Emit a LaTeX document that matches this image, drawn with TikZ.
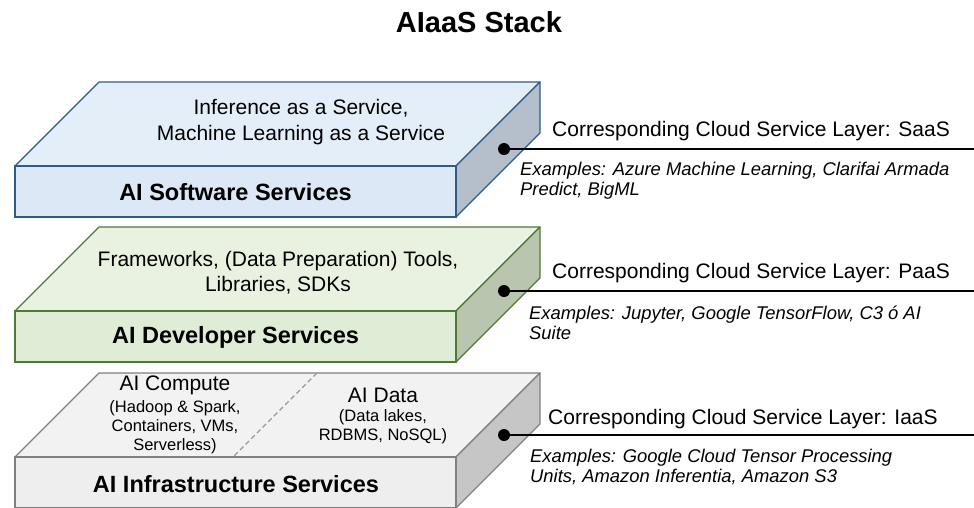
\documentclass[tikz,border=0pt]{standalone}
\usepackage{fontspec}
\setmainfont{Liberation Sans}
\definecolor{bTop}{HTML}{E4EEF9}
\definecolor{bFront}{HTML}{DCE8F5}
\definecolor{bSide}{HTML}{B4BFCB}
\definecolor{bLine}{HTML}{2E5B88}
\definecolor{gTop}{HTML}{E9F2E1}
\definecolor{gFront}{HTML}{E0EDD6}
\definecolor{gSide}{HTML}{B9C5AE}
\definecolor{gLine}{HTML}{4F7A34}
\definecolor{iTop}{HTML}{F2F2F2}
\definecolor{iFront}{HTML}{EEEEEE}
\definecolor{iSide}{HTML}{C6C6C6}
\definecolor{iLine}{HTML}{808080}
\newcommand\layerbox[5]{%
  % #1 front top y, #2 top fill, #3 front fill, #4 side fill, #5 stroke
  \draw[line width=1.2pt,draw=#5,fill=#2,line join=round] (15,#1) -- (99,#1-84) -- (540,#1-84) -- (456,#1) -- cycle;
  \draw[line width=1.2pt,draw=#5,fill=#4,line join=round] (456,#1) -- (540,#1-84) -- (540,#1-33) -- (456,#1+51) -- cycle;
  \draw[line width=1.2pt,draw=#5,fill=#3] (15,#1) rectangle (456,#1+51);
}
\begin{document}
\begin{tikzpicture}[x=1pt,y=-1pt,
  frontlbl/.style={font=\fontsize{23.5}{27}\selectfont\bfseries,anchor=center},
  toplbl/.style={font=\fontsize{21}{25.5}\selectfont,align=center,anchor=center},
  smalllbl/.style={font=\fontsize{16.5}{18.8}\selectfont,align=center,anchor=center},
  layerlbl/.style={font=\fontsize{21}{25}\selectfont,anchor=west,inner sep=0pt},
  exlbl/.style={font=\fontsize{18.4}{19.8}\selectfont\itshape,align=left,anchor=north west,inner sep=0pt},
  dotline/.style={line width=1.5pt,black},
  dotmark/.style={circle,fill=black,inner sep=0pt,minimum size=12pt}]
\useasboundingbox (0,0) rectangle (974,507);

\node[font=\fontsize{29}{33}\selectfont\bfseries] (title) at (479,22) {AIaaS Stack};

% Software layer
\layerbox{166}{bTop}{bFront}{bSide}{bLine}
\node[toplbl] (swtop) at (301,122) {Inference as a Service,\\Machine Learning as a Service};
\node[frontlbl] (swfront) at (235.5,192) {AI Software Services};

% Developer layer
\layerbox{311}{gTop}{gFront}{gSide}{gLine}
\node[toplbl] (devtop) at (278,272.5) {Frameworks, (Data Preparation) Tools,\\Libraries, SDKs};
\node[frontlbl] (devfront) at (235.5,337) {AI Developer Services};

% Infrastructure layer
\layerbox{457}{iTop}{iFront}{iSide}{iLine}
\draw[draw=iLine!80,dash pattern=on 5pt off 3pt,line width=1.1pt] (317,373) -- (233,457);
\node[font=\fontsize{21}{25}\selectfont] (comp) at (175,385) {AI Compute};
\node[smalllbl] (compsub) at (175,427) {(Hadoop \& Spark,\\Containers, VMs,\\Serverless)};
\node[font=\fontsize{21}{25}\selectfont] (data) at (383,395) {AI Data};
\node[smalllbl] (datasub) at (383,427) {(Data lakes,\\RDBMS, NoSQL)};
\node[frontlbl] (infront) at (236,484) {AI Infrastructure Services};

% Connectors
\node[dotmark] (d1) at (504,149) {};
\coordinate (e1) at (974,149);
\draw[dotline] (d1.center) -- (e1);
\node[dotmark] (d2) at (504,291) {};
\coordinate (e2) at (974,291);
\draw[dotline] (d2.center) -- (e2);
\node[dotmark] (d3) at (504,435) {};
\coordinate (e3) at (974,435);
\draw[dotline] (d3.center) -- (e3);

% Side labels
\node[layerlbl] (saas) at (552,131) {Corresponding Cloud Service Layer: SaaS};
\node[exlbl] (saasex) at (520,162) {Examples: Azure Machine Learning, Clarifai Armada\\Predict, BigML};
\node[layerlbl] (paas) at (552,273) {Corresponding Cloud Service Layer: PaaS};
\node[exlbl] (paasex) at (529,306) {Examples: Jupyter, Google TensorFlow, C3 ó AI\\Suite};
\node[layerlbl] (iaas) at (548,419) {Corresponding Cloud Service Layer: IaaS};
\node[exlbl] (iaasex) at (530,449) {Examples: Google Cloud Tensor Processing\\Units, Amazon Inferentia, Amazon S3};
\end{tikzpicture}
\end{document}
